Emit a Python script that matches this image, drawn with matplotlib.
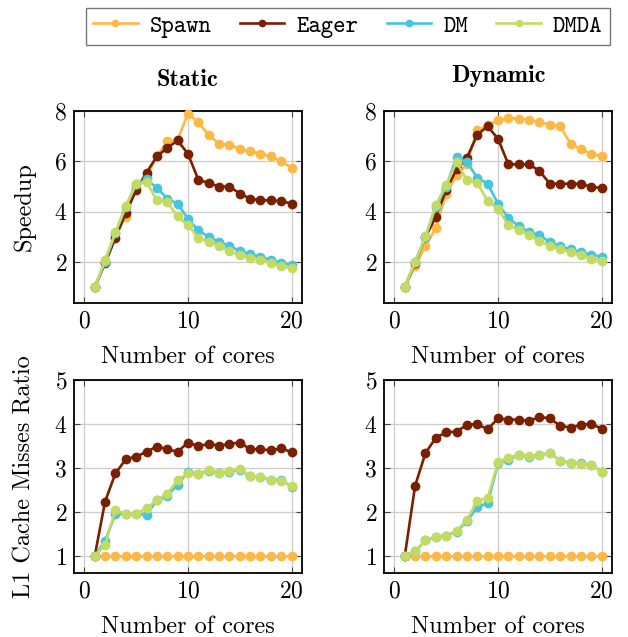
import matplotlib
matplotlib.use("Agg")
from matplotlib import pyplot as plt

cores = list(range(1, 21))

# Speedup, static scheduling
static_spawn = [1.0, 2.0, 3.1, 3.8, 5.0, 5.4, 6.2, 6.8, 6.85, 7.9, 7.55, 7.05, 6.7, 6.65, 6.5, 6.4, 6.3, 6.2, 6.0, 5.75]
static_eager = [1.0, 1.95, 2.95, 3.95, 4.85, 5.55, 6.2, 6.53, 6.83, 6.3, 5.27, 5.14, 5.0, 5.0, 4.72, 4.52, 4.45, 4.45, 4.42, 4.32]
static_dm = [1.0, 2.0, 3.15, 4.2, 5.1, 5.28, 4.95, 4.52, 4.32, 3.72, 3.26, 3.0, 2.8, 2.64, 2.44, 2.31, 2.2, 2.09, 1.96, 1.88]
static_dmda = [1.0, 2.07, 3.19, 4.21, 5.11, 5.18, 4.45, 4.38, 3.81, 3.46, 2.97, 2.8, 2.64, 2.44, 2.27, 2.17, 2.07, 1.97, 1.83, 1.76]

# Speedup, dynamic scheduling
dynamic_spawn = [1.0, 1.83, 2.64, 3.35, 4.72, 5.44, 5.9, 7.23, 7.43, 7.63, 7.72, 7.7, 7.66, 7.56, 7.46, 7.39, 6.7, 6.48, 6.3, 6.2]
dynamic_eager = [1.0, 1.95, 3.0, 3.79, 4.87, 5.68, 6.15, 7.06, 7.39, 6.9, 5.88, 5.88, 5.88, 5.62, 5.11, 5.11, 5.11, 5.11, 4.98, 4.95]
dynamic_dm = [1.0, 2.0, 3.0, 4.2, 5.0, 6.17, 5.97, 5.35, 5.11, 4.32, 3.76, 3.42, 3.19, 3.06, 2.8, 2.64, 2.5, 2.4, 2.29, 2.2]
dynamic_dmda = [1.0, 2.0, 3.02, 4.28, 5.05, 5.97, 5.25, 5.14, 4.42, 4.12, 3.46, 3.28, 3.06, 2.84, 2.64, 2.5, 2.4, 2.27, 2.13, 2.04]

# L1 cache misses ratio, static scheduling
static_l1_spawn = [1.0] * 20
static_l1_eager = [1.0, 2.24, 2.88, 3.2, 3.26, 3.37, 3.49, 3.43, 3.37, 3.58, 3.5, 3.55, 3.51, 3.55, 3.58, 3.43, 3.43, 3.4, 3.45, 3.36]
static_l1_dm = [1.0, 1.35, 1.96, 1.96, 1.96, 1.94, 2.27, 2.37, 2.62, 2.92, 2.87, 2.94, 2.9, 2.92, 2.96, 2.81, 2.79, 2.73, 2.73, 2.58]
static_l1_dmda = [1.0, 1.26, 2.05, 1.96, 1.96, 2.09, 2.27, 2.42, 2.73, 2.88, 2.87, 2.96, 2.9, 2.94, 2.97, 2.82, 2.79, 2.73, 2.71, 2.6]

# L1 cache misses ratio, dynamic scheduling
dynamic_l1_spawn = [1.0] * 20
dynamic_l1_eager = [1.0, 2.6, 3.34, 3.69, 3.81, 3.83, 3.98, 4.0, 3.88, 4.13, 4.1, 4.1, 4.07, 4.16, 4.13, 3.96, 3.92, 3.98, 4.01, 3.89]
dynamic_l1_dm = [1.0, 1.11, 1.36, 1.44, 1.47, 1.56, 1.79, 2.12, 2.2, 3.11, 3.19, 3.3, 3.26, 3.3, 3.34, 3.17, 3.12, 3.11, 3.07, 2.92]
dynamic_l1_dmda = [1.0, 1.11, 1.36, 1.44, 1.47, 1.58, 1.83, 2.26, 2.32, 3.13, 3.24, 3.3, 3.28, 3.3, 3.34, 3.17, 3.11, 3.09, 3.07, 2.92]

names = ["Spawn", "Eager", "DM", "DMDA"]
colors = ["#FDB947", "#7A2000", "#47C4DE", "#C3DB62"]

plt.rcParams["font.family"] = ["cmr10", "DejaVu Serif"]
plt.rcParams["mathtext.fontset"] = "cm"
plt.rcParams["axes.formatter.use_mathtext"] = True
plt.rcParams["font.size"] = 17

fig = plt.figure(figsize=(6.28, 6.37), dpi=100)
ax_ss = fig.add_axes([0.1178, 0.5243, 0.3630, 0.3014])
ax_sd = fig.add_axes([0.6115, 0.5243, 0.3630, 0.3014])
ax_ls = fig.add_axes([0.1178, 0.1005, 0.3630, 0.3030])
ax_ld = fig.add_axes([0.6115, 0.1005, 0.3630, 0.3030])

panels = [
    (ax_ss, [static_spawn, static_eager, static_dm, static_dmda]),
    (ax_sd, [dynamic_spawn, dynamic_eager, dynamic_dm, dynamic_dmda]),
    (ax_ls, [static_l1_spawn, static_l1_eager, static_l1_dm, static_l1_dmda]),
    (ax_ld, [dynamic_l1_spawn, dynamic_l1_eager, dynamic_l1_dm, dynamic_l1_dmda]),
]

handles = []
for ax, series in panels:
    for name, color, vals in zip(names, colors, series):
        line, = ax.plot(cores, vals, color=color, lw=1.9, marker="o", ms=6,
                        label=name, clip_on=False, zorder=3)
        if ax is ax_ss:
            handles.append(line)
    ax.set_xlim(-1, 21)
    ax.set_xticks([0, 10, 20])
    ax.grid(True, color="#cccccc", lw=0.9)
    ax.set_axisbelow(True)
    ax.tick_params(direction="in", top=True, right=True, length=4, width=0.8,
                   color="#444444", labelsize=17, pad=5)
    for s in ax.spines.values():
        s.set_linewidth(1.3)
    ax.set_xlabel("Number of cores", fontsize=17.5, labelpad=10)

for ax in (ax_ss, ax_sd):
    ax.set_ylim(0.37, 8)
    ax.set_yticks([2, 4, 6, 8])
for ax in (ax_ls, ax_ld):
    ax.set_ylim(0.62, 5)
    ax.set_yticks([1, 2, 3, 4, 5])

ax_ss.set_ylabel("Speedup", fontsize=17.5, labelpad=13)
ax_ls.set_ylabel("L1 Cache Misses Ratio", fontsize=17.5, labelpad=13)
ax_ss.set_title("Static", fontsize=17.5, fontfamily="cmb10", pad=18)
ax_sd.set_title("Dynamic", fontsize=17.5, fontfamily="cmb10", pad=21)

leg = fig.legend(handles=handles, loc="upper center", ncol=4,
                 bbox_to_anchor=(0.5535, 1.006), frameon=True, fancybox=False,
                 edgecolor="#555555", handlelength=1.9, handletextpad=0.5,
                 columnspacing=1.2, borderpad=0.3,
                 prop={"family": "cmtt10", "size": 17})
leg.get_frame().set_linewidth(1.0)
for h in leg.legend_handles:
    h.set_markersize(4.5)

fig.savefig("out.png", dpi=100)
